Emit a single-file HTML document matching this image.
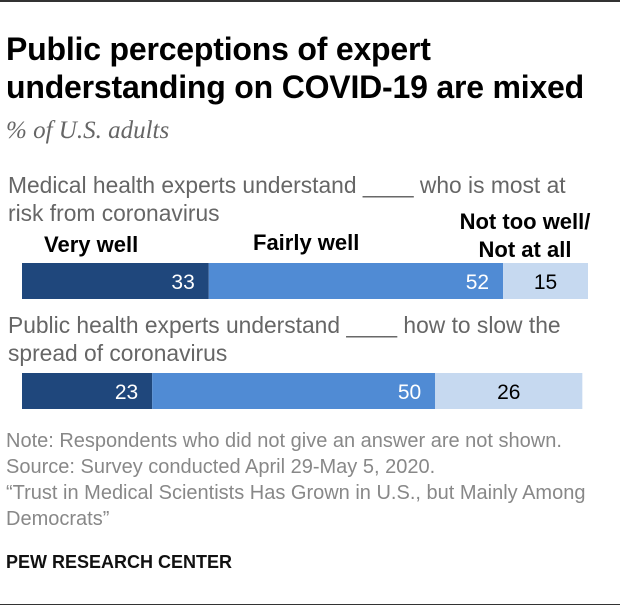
<!DOCTYPE html>
<html><head><meta charset="utf-8"><style>
body{margin:0;background:#fff;width:620px;height:614px;overflow:hidden;font-family:"Liberation Sans",sans-serif;position:relative}
.a{position:absolute;white-space:nowrap}
.t{font-weight:bold;font-size:32px;line-height:38px;left:6px;top:30px;color:#000;letter-spacing:-0.2px}
.s{font-family:"Liberation Serif",serif;font-style:italic;font-size:25px;color:#666;left:6px;top:117px}
.q{font-size:22.8px;color:#666;line-height:28px;left:8px}
.l{font-weight:bold;font-size:22px;color:#000}
.n{font-size:20px;color:#888;left:6px;line-height:26px}
</style></head><body>
<div class="a" style="left:0;top:0;width:620px;height:2px;background:#333"></div>
<div class="a t">Public perceptions of expert<br>understanding on COVID-19 are mixed</div>
<div class="a s">% of U.S. adults</div>
<div class="a q" style="top:171px">Medical health experts understand ____ who is most at<br>risk from coronavirus</div>
<div class="a l" style="left:44px;top:232px">Very well</div>
<div class="a l" style="left:253px;top:230px">Fairly well</div>
<div class="a l" style="left:455px;width:140px;top:208px;text-align:center;line-height:28px">Not too well/<br>Not at all</div>
<div class="a q" style="top:311px">Public health experts understand ____ how to slow the<br>spread of coronavirus</div>
<svg class="a" id="chart" style="left:0;top:0" width="620" height="614"></svg>
<div class="a n" style="top:428px">Note: Respondents who did not give an answer are not shown.<br>Source: Survey conducted April 29-May 5, 2020.<br>“Trust in Medical Scientists Has Grown in U.S., but Mainly Among<br>Democrats”</div>
<div class="a" style="left:6px;top:552px;font-weight:bold;font-size:18px;color:#111">PEW RESEARCH CENTER</div>
<div class="a" style="left:0;top:604px;width:620px;height:1px;background:#333"></div>
<script>
const rows=["Medical","Public"];
const veryWell=[33,23];
const fairlyWell=[52,50];
const notWell=[15,26];
const svg=document.getElementById('chart');
const NS='http://www.w3.org/2000/svg';
const x0=22, scale=5.66, tops=[263,373], h=36;
const colors=['#1f477c','#508bd4','#c6d9f0'];
const txt=['#fff','#fff','#000'];
rows.forEach((r,i)=>{
  const vals=[veryWell[i],fairlyWell[i],notWell[i]];
  let x=x0;
  vals.forEach((v,k)=>{
    const w=v*scale;
    const rect=document.createElementNS(NS,'rect');
    rect.setAttribute('x',x);rect.setAttribute('y',tops[i]);rect.setAttribute('width',w);rect.setAttribute('height',h);rect.setAttribute('fill',colors[k]);
    
    
    svg.appendChild(rect);
    const t=document.createElementNS(NS,'text');
    t.textContent=v;
    t.setAttribute('font-size','21');t.setAttribute('font-family','Liberation Sans, sans-serif');t.setAttribute('fill',txt[k]);
    if(k<2){t.setAttribute('x',x+w-14);t.setAttribute('text-anchor','end');}
    else{t.setAttribute('x',x+w/2);t.setAttribute('text-anchor','middle');}
    t.setAttribute('y',tops[i]+26);
    
    
    svg.appendChild(t);
    x+=w;
  });
});
</script>
</body></html>
